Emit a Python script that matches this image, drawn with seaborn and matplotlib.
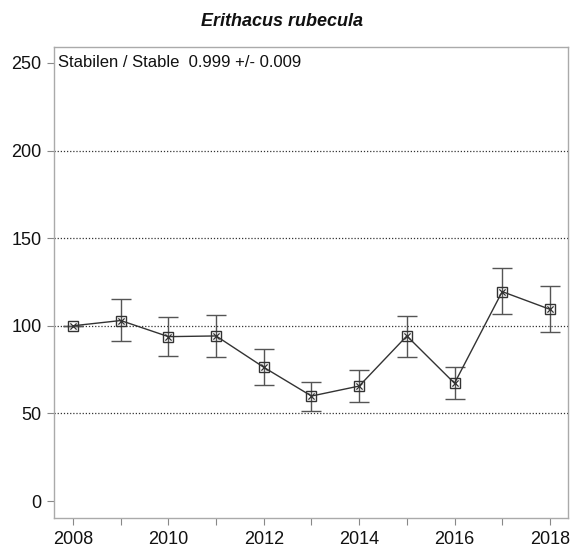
import matplotlib
matplotlib.use("Agg")
import matplotlib.pyplot as plt
import seaborn as sns
import pandas as pd

years = [2008, 2009, 2010, 2011, 2012, 2013, 2014, 2015, 2016, 2017, 2018]
index_vals = [100.0, 103.0, 93.8, 94.2, 76.3, 59.9, 65.6, 94.2, 67.2, 119.5, 109.4]
upper = [100.0, 115.1, 105.2, 106.2, 86.6, 68.1, 74.8, 105.8, 76.3, 132.8, 122.9]
lower = [100.0, 91.3, 82.8, 82.4, 66.4, 51.4, 56.3, 82.4, 58.0, 106.6, 96.3]
title = "Erithacus rubecula"
annotation = "Stabilen / Stable  0.999 +/- 0.009"
y_ticks = [0, 50, 100, 150, 200, 250]
grid_levels = [50, 100, 150, 200]
x_label_ticks = [2008, 2010, 2012, 2014, 2016, 2018]

df = pd.DataFrame({"year": years, "index": index_vals, "upper": upper, "lower": lower})

sns.set_style("white")
plt.rcParams["font.family"] = ["Liberation Sans", "DejaVu Sans"]

fig = plt.figure(figsize=(5.70, 5.49), dpi=100)
ax = fig.add_axes([54 / 570, 1 - 518 / 549, (568 - 54) / 570, (518 - 47) / 549])

for g in grid_levels:
    ax.axhline(g, color="#333333", lw=0.9, ls=(0, (1, 1.5)), zorder=1)

err_lo = [v - l for v, l in zip(df["index"], df["lower"])]
err_hi = [u - v for v, u in zip(df["index"], df["upper"])]
ax.errorbar(df["year"], df["index"], yerr=[err_lo, err_hi], fmt="none",
            ecolor="#555555", elinewidth=1.0, capsize=7, capthick=1.0, zorder=2)

sns.lineplot(data=df, x="year", y="index", ax=ax, color="#333333", lw=1.0,
             marker="s", markersize=7, markerfacecolor="none",
             markeredgecolor="#333333", markeredgewidth=1.0, zorder=3)
sns.scatterplot(data=df, x="year", y="index", ax=ax, marker="x", s=20,
                color="#333333", linewidth=0.9, zorder=4)

ax.set_xlim(2007.6, 2018.38)
ax.set_ylim(-9.7, 259.1)
ax.set_yticks(y_ticks)
ax.set_yticklabels([str(t) for t in y_ticks], fontsize=13)
ax.set_xticks(years)
ax.set_xticklabels([str(y) if y in x_label_ticks else "" for y in years], fontsize=13)
ax.tick_params(axis="both", direction="out", length=5, width=0.8, color="#888888",
               labelcolor="#111111", pad=4)
ax.tick_params(left=True, bottom=True)
ax.set_xlabel("")
ax.set_ylabel("")
for s in ax.spines.values():
    s.set_color("#aaaaaa")
    s.set_linewidth(1.0)

ax.text(0.008, (250 + 9.7) / (259.1 + 9.7), annotation, transform=ax.transAxes,
        fontsize=12, va="center", ha="left", color="#111111")
fig.text(282 / 570, 1 - 22 / 549, title, fontsize=13, fontweight="bold",
         fontstyle="italic", ha="center", va="center", color="#111111")

fig.savefig("out.png", dpi=100)
